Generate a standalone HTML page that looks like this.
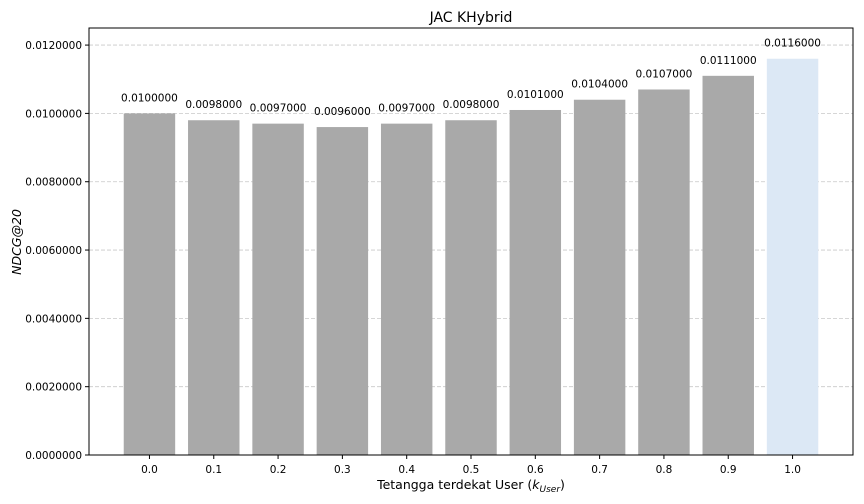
<!DOCTYPE html>
<html><head><meta charset="utf-8"><style>
body{margin:0;background:#fff;}
svg{display:block;font-family:"DejaVu Sans","Liberation Sans",sans-serif;}
</style></head><body>
<svg id="chart" width="864" height="504"></svg>
<script>
const categories=["0.0","0.1","0.2","0.3","0.4","0.5","0.6","0.7","0.8","0.9","1.0"];
const values=[0.0100,0.0098,0.0097,0.0096,0.0097,0.0098,0.0101,0.0104,0.0107,0.0111,0.0116];
const yTicks=[0,0.002,0.004,0.006,0.008,0.010,0.012];
const L=89,R=853,T=28,B=455,yMax=0.0125,xMin=-0.94,xMax=categories.length-1+0.94;
const NS="http://www.w3.org/2000/svg";
const svg=document.getElementById('chart');
function y(v){return B-(v/yMax)*(B-T);}
function x(i){return L+(i-xMin)/(xMax-xMin)*(R-L);}
function el(t,a,txt){const e=document.createElementNS(NS,t);for(const k in a)e.setAttribute(k,a[k]);if(txt!==undefined)e.textContent=txt;svg.appendChild(e);return e;}
const title=el('text',{x:471,y:22,'text-anchor':'middle','font-size':14,fill:'#000'},'JAC KHybrid');


yTicks.forEach(v=>{
  const g=el('line',{x1:L,x2:R,y1:y(v),y2:y(v),stroke:'#c8c8c8','stroke-dasharray':'4,2','stroke-width':0.8});
  
  
  el('line',{x1:L-4,x2:L,y1:y(v),y2:y(v),stroke:'#000'});
  const t=el('text',{x:L-7,y:y(v)+4,'text-anchor':'end','font-size':10.5,fill:'#000'},v.toFixed(7));
  
  
});
const bw=(0.8/(xMax-xMin))*(R-L);
values.forEach((v,i)=>{
  const last=i===values.length-1;
  const b=el('rect',{x:x(i)-bw/2,y:y(v),width:bw,height:B-y(v),fill:last?'#dce8f5':'#a9a9a9'});
  
  
  const lb=el('text',{x:x(i),y:y(v)-12,'text-anchor':'middle','font-size':10.5,fill:'#000'},v.toFixed(7));
  
  
  el('line',{x1:x(i),x2:x(i),y1:B,y2:B+4,stroke:'#000'});
  const t=el('text',{x:x(i),y:B+18,'text-anchor':'middle','font-size':10.5,fill:'#000'},categories[i]);
  
  
});
const fr=el('rect',{x:L,y:T,width:R-L,height:B-T,fill:'none',stroke:'#000','stroke-width':1});


const xt=el('text',{x:471,y:489,'text-anchor':'middle','font-size':12.5,fill:'#000'});


xt.innerHTML='Tetangga terdekat User (<tspan font-style="italic">k</tspan><tspan font-style="italic" font-size="9" dy="3">User</tspan><tspan dy="-3">)</tspan>';
const yt=el('text',{x:0,y:0,'text-anchor':'middle','font-size':12.5,'font-style':'italic',fill:'#000',transform:'translate(21,242) rotate(-90)'},'NDCG@20');


</script>
</body></html>
